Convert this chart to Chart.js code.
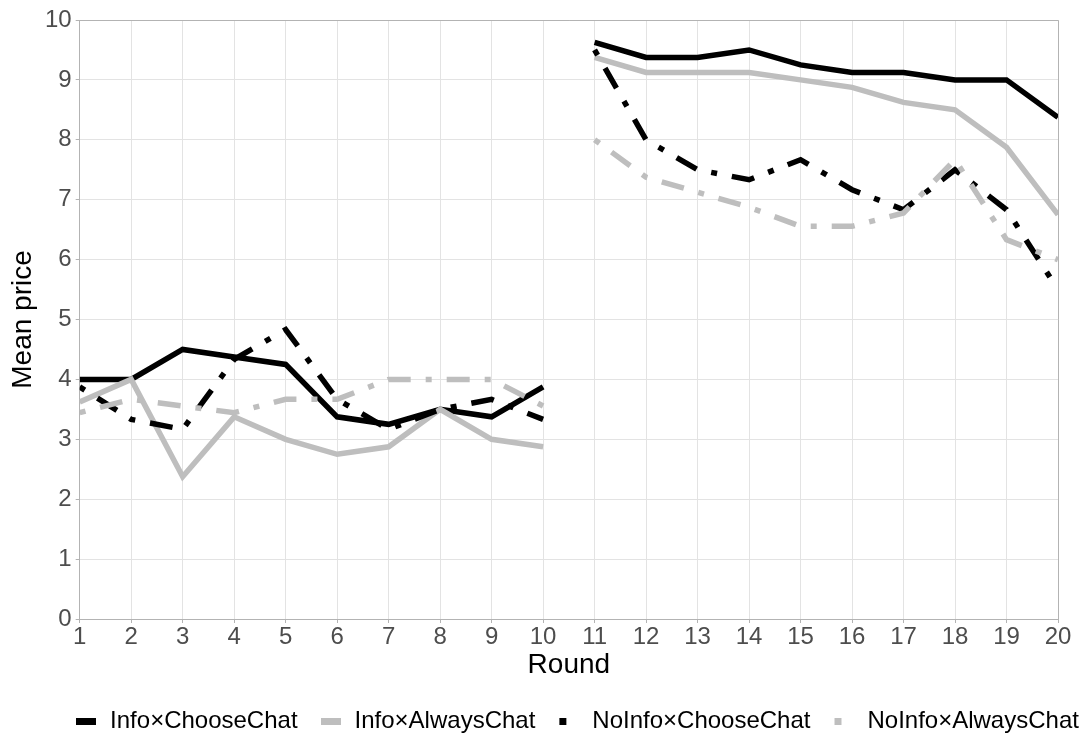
<!DOCTYPE html>
<html>
<head>
<meta charset="utf-8">
<script src="https://cdn.jsdelivr.net/npm/chart.js@4"></script>
<style>
  html, body { margin: 0; padding: 0; background: #fff; }
  #wrap { width: 1085px; height: 733px; }
</style>
</head>
<body>
<div id="wrap"><canvas id="myChart"></canvas></div>
<script>
// Data
const rounds = [1, 2, 3, 4, 5, 6, 7, 8, 9, 10, 11, 12, 13, 14, 15, 16, 17, 18, 19, 20];
const infoChooseChat = [4.0, 4.0, 4.5, 4.375, 4.25, 3.375, 3.25, 3.5, 3.375, 3.875,
                        9.625, 9.375, 9.375, 9.5, 9.25, 9.125, 9.125, 9.0, 9.0, 8.375];
const infoAlwaysChat = [3.625, 4.0, 2.375, 3.375, 3.0, 2.75, 2.875, 3.5, 3.0, 2.875,
                        9.375, 9.125, 9.125, 9.125, 9.0, 8.875, 8.625, 8.5, 7.875, 6.75];
const noInfoChooseChat = [3.875, 3.333, 3.167, 4.333, 4.833, 3.667, 3.167, 3.5, 3.667, 3.333,
                          9.5, 8.0, 7.5, 7.333, 7.667, 7.167, 6.833, 7.5, 6.833, 5.5];
const noInfoAlwaysChat = [3.444, 3.667, 3.556, 3.444, 3.667, 3.667, 4.0, 4.0, 4.0, 3.556,
                          8.0, 7.375, 7.125, 6.875, 6.556, 6.556, 6.778, 7.667, 6.333, 6.0];
const seriesNames = ['Info×ChooseChat', 'Info×AlwaysChat', 'NoInfo×ChooseChat', 'NoInfo×AlwaysChat'];
const yTicks = [0, 1, 2, 3, 4, 5, 6, 7, 8, 9, 10];
const breakAfter = 10; // no line between round 10 and 11

const BLACK = '#000000';
const GREY = '#bebebe';
const DOTDASH = [6, 15, 23, 15];
const FONT = "'Liberation Sans', Arial, sans-serif";

function points(values) {
    return rounds.map((r, i) => ({ x: r, y: values[i] }));
}

// small legend key images: a bar for solid lines, a dot for dashed ones
function keyImage(color, dashed) {
    const c = document.createElement('canvas');
    c.width = 20;
    c.height = 7;
    const g = c.getContext('2d');
    g.fillStyle = color;
    if (dashed) g.fillRect(1, 0, 7, 7);
    else g.fillRect(0, 0, 20, 7);
    return c;
}

function makeSet(label, values, color, dash, order) {
    return {
        label: label,
        data: points(values),
        borderColor: color,
        borderWidth: 5.5,
        borderDash: dash,
        borderCapStyle: 'butt',
        borderJoinStyle: 'miter',
        pointRadius: 0,
        pointHoverRadius: 0,
        fill: false,
        tension: 0,
        order: order,
        segment: {
            borderColor: ctx => ctx.p0.parsed.x === breakAfter ? 'rgba(0,0,0,0)' : undefined
        },
        keyImg: keyImage(color, dash.length > 0)
    };
}

const datasets = [
    makeSet(seriesNames[0], infoChooseChat, BLACK, [], 4),
    makeSet(seriesNames[1], infoAlwaysChat, GREY, [], 3),
    makeSet(seriesNames[2], noInfoChooseChat, BLACK, DOTDASH, 2),
    makeSet(seriesNames[3], noInfoAlwaysChat, GREY, DOTDASH, 1)
];

// panel border on top and right
const panelBorder = {
    id: 'panelBorder',
    afterDatasetsDraw(chart) {
        const { ctx, chartArea: a } = chart;
        ctx.save();
        ctx.strokeStyle = '#b3b3b3';
        ctx.lineWidth = 1;
        ctx.beginPath();
        ctx.moveTo(a.left, a.top + 0.5);
        ctx.lineTo(a.right + 0.5, a.top + 0.5);
        ctx.lineTo(a.right + 0.5, a.bottom);
        ctx.stroke();
        ctx.restore();
    }
};

// the original legend sits a bit right of centre and runs off the edge
const legendShift = {
    id: 'legendShift',
    afterLayout(chart) {
        const lg = chart.legend;
        lg.left += 45;
        lg.right += 45;
        lg.top += 9;
        lg.bottom += 9;
    }
};

const config = {
    type: 'line',
    data: { datasets: datasets },
    plugins: [panelBorder, legendShift],
    options: {
        responsive: true,
        maintainAspectRatio: false,
        animation: false,
        layout: { padding: { top: 20, right: 27, bottom: -1, left: 5 } },
        plugins: {
            tooltip: { enabled: false },
            legend: {
                position: 'bottom',
                labels: {
                    usePointStyle: true,
                    pointStyleWidth: 24,
                    padding: 21,
                    color: '#000',
                    font: { family: FONT, size: 24 },
                    sort: (a, b) => a.datasetIndex - b.datasetIndex,
                    generateLabels(chart) {
                        return chart.data.datasets.map((ds, i) => ({
                            text: ds.label,
                            datasetIndex: i,
                            fillStyle: ds.borderColor,
                            strokeStyle: ds.borderColor,
                            lineWidth: 0,
                            pointStyle: ds.keyImg,
                            fontColor: '#000',
                            hidden: false
                        }));
                    }
                }
            }
        },
        scales: {
            x: {
                type: 'linear',
                min: 1,
                max: 20,
                ticks: {
                    stepSize: 1,
                    autoSkip: false,
                    maxRotation: 0,
                    color: '#4d4d4d',
                    padding: 2,
                    font: { family: FONT, size: 24, lineHeight: 1 }
                },
                grid: { color: '#e3e3e3', lineWidth: 1, tickColor: '#b3b3b3', tickLength: 4 },
                border: { color: '#b3b3b3', width: 1 },
                title: {
                    display: true,
                    text: 'Round',
                    color: '#000',
                    font: { family: FONT, size: 28, lineHeight: 1 },
                    padding: { top: 0, bottom: 0 }
                }
            },
            y: {
                min: 0,
                max: 10,
                afterBuildTicks: axis => { axis.ticks = yTicks.map(v => ({ value: v })); },
                ticks: {
                    color: '#4d4d4d',
                    padding: 4,
                    font: { family: FONT, size: 24, lineHeight: 1 }
                },
                grid: { color: '#e3e3e3', lineWidth: 1, tickColor: '#b3b3b3', tickLength: 4 },
                border: { color: '#b3b3b3', width: 1 },
                title: {
                    display: true,
                    text: 'Mean price',
                    color: '#000',
                    font: { family: FONT, size: 28, lineHeight: 1 },
                    padding: { top: 4, bottom: 4 }
                }
            }
        }
    }
};

const myChart = new Chart(document.getElementById('myChart'), config);
</script>
</body>
</html>
